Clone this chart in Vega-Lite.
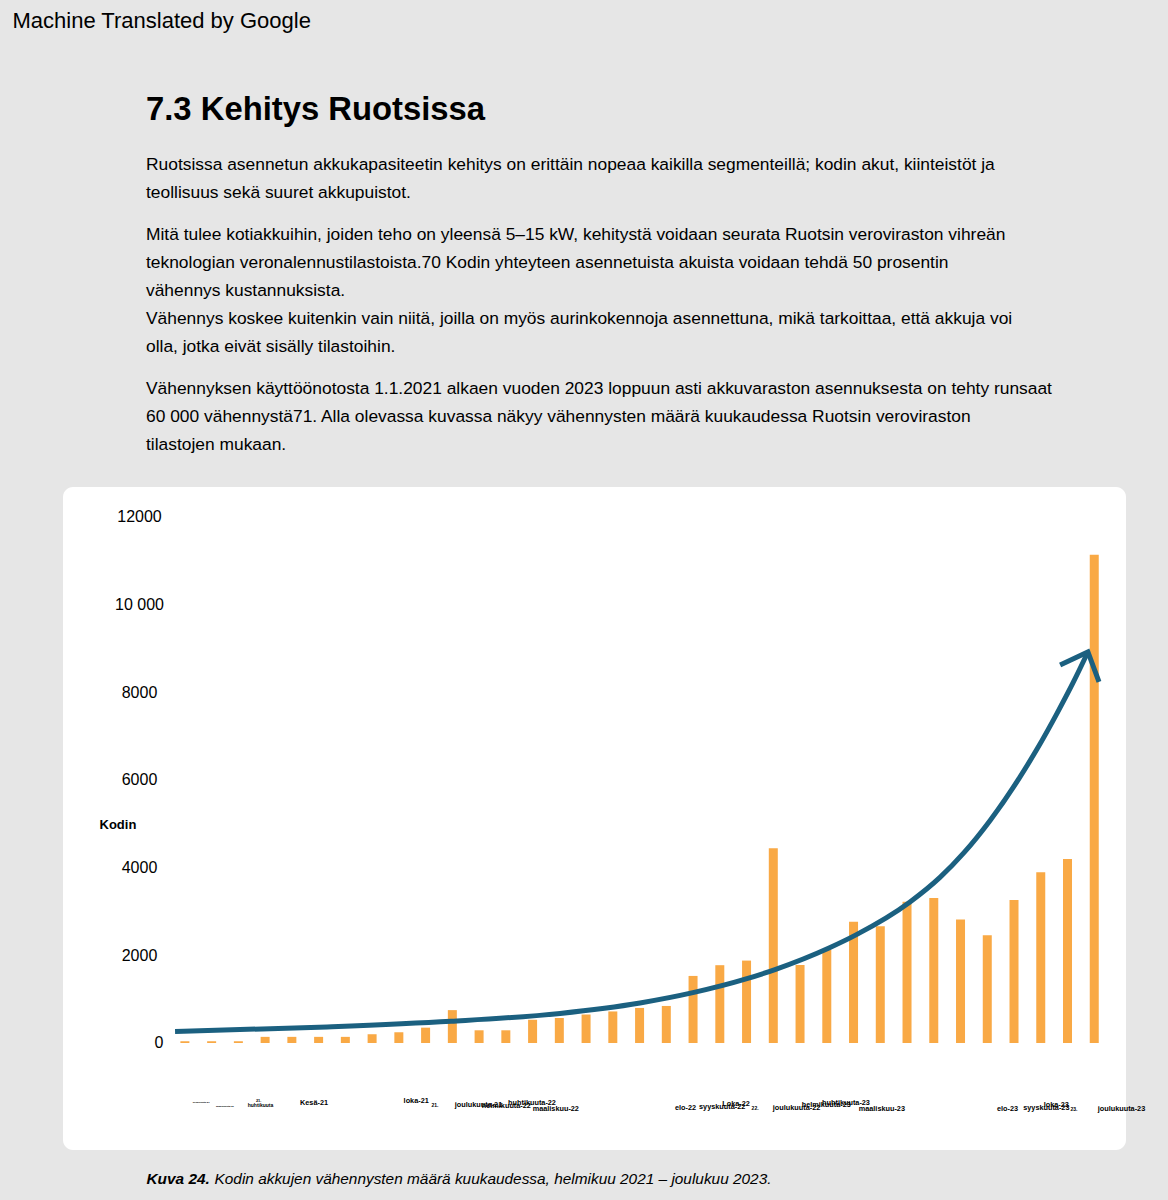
{
  "$schema": "https://vega.github.io/schema/vega-lite/v6.json",
  "width": 1063,
  "height": 663,
  "autosize": {"type": "none"},
  "padding": {"left": 63, "top": 487, "right": 42, "bottom": 50},
  "background": "#e6e6e6",
  "config": {
    "view": {"fill": "white", "stroke": null, "cornerRadius": 10},
    "font": "Liberation Sans",
    "axis": {"grid": false, "domain": false, "ticks": false, "tickSize": 0}
  },
  "title": {
    "text": "7.3 Kehitys Ruotsissa",
    "subtitle": [
      "Ruotsissa asennetun akkukapasiteetin kehitys on erittäin nopeaa kaikilla segmenteillä; kodin akut, kiinteistöt ja",
      "\u200b",
      "teollisuus sekä suuret akkupuistot.",
      "\u200b",
      "\u200b",
      "Mitä tulee kotiakkuihin, joiden teho on yleensä 5–15 kW, kehitystä voidaan seurata Ruotsin veroviraston vihreän",
      "\u200b",
      "teknologian veronalennustilastoista.70 Kodin yhteyteen asennetuista akuista voidaan tehdä 50 prosentin",
      "\u200b",
      "vähennys kustannuksista.",
      "\u200b",
      "Vähennys koskee kuitenkin vain niitä, joilla on myös aurinkokennoja asennettuna, mikä tarkoittaa, että akkuja voi",
      "\u200b",
      "olla, jotka eivät sisälly tilastoihin.",
      "\u200b",
      "\u200b",
      "Vähennyksen käyttöönotosta 1.1.2021 alkaen vuoden 2023 loppuun asti akkuvaraston asennuksesta on tehty runsaat",
      "\u200b",
      "60 000 vähennystä71. Alla olevassa kuvassa näkyy vähennysten määrä kuukaudessa Ruotsin veroviraston",
      "\u200b",
      "tilastojen mukaan."
    ],
    "anchor": "start",
    "frame": "group",
    "dx": 83,
    "offset": -444,
    "baseline": "top",
    "font": "Liberation Sans",
    "fontSize": 32.8,
    "fontWeight": "bold",
    "color": "#000000",
    "subtitleFont": "Liberation Sans",
    "subtitleFontSize": 17.4,
    "subtitleColor": "#000000",
    "subtitleLineHeight": 14,
    "subtitlePadding": 29
  },
  "datasets": {
    "monthly": [
      {"month": "2021-02", "m": 0, "v": 40},
      {"month": "2021-03", "m": 1, "v": 40},
      {"month": "2021-04", "m": 2, "v": 40},
      {"month": "2021-05", "m": 3, "v": 140},
      {"month": "2021-06", "m": 4, "v": 140},
      {"month": "2021-07", "m": 5, "v": 140},
      {"month": "2021-08", "m": 6, "v": 140},
      {"month": "2021-09", "m": 7, "v": 200},
      {"month": "2021-10", "m": 8, "v": 245},
      {"month": "2021-11", "m": 9, "v": 350},
      {"month": "2021-12", "m": 10, "v": 750},
      {"month": "2022-01", "m": 11, "v": 290},
      {"month": "2022-02", "m": 12, "v": 290},
      {"month": "2022-03", "m": 13, "v": 530},
      {"month": "2022-04", "m": 14, "v": 570},
      {"month": "2022-05", "m": 15, "v": 650},
      {"month": "2022-06", "m": 16, "v": 720},
      {"month": "2022-07", "m": 17, "v": 800},
      {"month": "2022-08", "m": 18, "v": 845},
      {"month": "2022-09", "m": 19, "v": 1530},
      {"month": "2022-10", "m": 20, "v": 1775},
      {"month": "2022-11", "m": 21, "v": 1880},
      {"month": "2022-12", "m": 22, "v": 4445},
      {"month": "2023-01", "m": 23, "v": 1780},
      {"month": "2023-02", "m": 24, "v": 2130},
      {"month": "2023-03", "m": 25, "v": 2765},
      {"month": "2023-04", "m": 26, "v": 2665},
      {"month": "2023-05", "m": 27, "v": 3220},
      {"month": "2023-06", "m": 28, "v": 3310},
      {"month": "2023-07", "m": 29, "v": 2815},
      {"month": "2023-08", "m": 30, "v": 2460},
      {"month": "2023-09", "m": 31, "v": 3265},
      {"month": "2023-10", "m": 32, "v": 3895},
      {"month": "2023-11", "m": 33, "v": 4195},
      {"month": "2023-12", "m": 34, "v": 11140}
    ],
    "trend": [
      {"m": -0.22, "v": 262},
      {"m": 5.41, "v": 367},
      {"m": 10.0, "v": 495},
      {"m": 14.04, "v": 675},
      {"m": 17.0, "v": 913},
      {"m": 18.96, "v": 1148},
      {"m": 20.96, "v": 1467},
      {"m": 22.0, "v": 1675},
      {"m": 24.0, "v": 2167},
      {"m": 25.0, "v": 2466},
      {"m": 27.0, "v": 3217},
      {"m": 28.11, "v": 3778},
      {"m": 29.0, "v": 4342},
      {"m": 29.96, "v": 5072},
      {"m": 31.07, "v": 6066},
      {"m": 31.7, "v": 6700},
      {"m": 32.44, "v": 7515},
      {"m": 33.04, "v": 8220},
      {"m": 33.59, "v": 8920}
    ],
    "arrowhead": [
      {"m": 32.56, "v": 8623},
      {"m": 33.59, "v": 8920},
      {"m": 34.0, "v": 8238}
    ]
  },
  "layer": [
    {
      "data": {"name": "monthly"},
      "mark": {"type": "bar", "width": 9, "color": "#f9a945"},
      "encoding": {
        "x": {
          "field": "m",
          "type": "quantitative",
          "scale": {"domain": [-4.37, 35], "nice": false, "zero": false},
          "axis": {
            "orient": "bottom",
            "values": [0.59, 1.48, 2.74, 2.81, 4.81, 8.63, 9.33, 10.96, 12.0, 12.96, 13.85, 18.7, 20.07, 20.59, 21.3, 22.85, 23.96, 24.7, 26.04, 30.74, 32.19, 32.56, 33.22, 35],
            "labelExpr": "['helmikuuta-21','maaliskuuta-21','21.','huhtikuuta','Kesä-21','loka-21','21.','joulukuuta-21','helmikuuta-22','huhtikuuta-22','maaliskuu-22','elo-22','syyskuuta-22','Loka-22','22.','joulukuuta-22','helmikuuta-23','huhtikuuta-23','maaliskuu-23','elo-23','syyskuuta-23','loka-23','23.','joulukuuta-23'][indexof([0.59, 1.48, 2.74, 2.81, 4.81, 8.63, 9.33, 10.96, 12.0, 12.96, 13.85, 18.7, 20.07, 20.59, 21.3, 22.85, 23.96, 24.7, 26.04, 30.74, 32.19, 32.56, 33.22, 35], datum.value)]",
            "labelOverlap": false,
            "labelBound": false,
            "labelFlush": false,
            "labelFont": "Liberation Sans",
            "labelFontWeight": "bold",
            "labelColor": "#000000",
            "labelAlign": "center",
            "labelBaseline": "middle",
            "labelFontSize": {
              "condition": [
                {"test": "indexof([0.59, 1.48], datum.value) >= 0", "value": 2.5},
                {"test": "indexof([2.74], datum.value) >= 0", "value": 4},
                {"test": "indexof([2.81, 9.33, 21.3, 33.22], datum.value) >= 0", "value": 5}
              ],
              "value": 7.3
            },
            "labelPadding": {
              "condition": [
                {"test": "indexof([2.74, 8.63], datum.value) >= 0", "value": -50},
                {"test": "indexof([0.59, 4.81, 12.96, 24.7], datum.value) >= 0", "value": -48},
                {"test": "indexof([20.59], datum.value) >= 0", "value": -47},
                {"test": "indexof([2.81, 9.33, 10.96, 23.96, 32.56], datum.value) >= 0", "value": -46},
                {"test": "indexof([12.0], datum.value) >= 0", "value": -45},
                {"test": "indexof([1.48, 20.07], datum.value) >= 0", "value": -44},
                {"test": "indexof([18.7, 21.3, 22.85, 32.19], datum.value) >= 0", "value": -43}
              ],
              "value": -42
            },
            "title": "Kuva 24.",
            "titleX": 83,
            "titleY": 28,
            "titleAlign": "left",
            "titleBaseline": "middle",
            "titleFont": "Liberation Sans",
            "titleFontSize": 15.4,
            "titleFontWeight": "bold",
            "titleFontStyle": "italic",
            "titleColor": "#000000"
          }
        },
        "y": {
          "field": "v",
          "type": "quantitative",
          "scale": {"domain": [-2441, 12684], "nice": false, "zero": false},
          "axis": {
            "orient": "left",
            "values": [0, 2000, 4000, 6000, 8000, 10000, 12000],
            "labelExpr": "datum.value == 10000 ? '10 000' : format(datum.value, 'd')",
            "labelFont": "Liberation Sans",
            "labelFontSize": 16,
            "labelColor": "#000000",
            "labelAlign": "center",
            "labelBaseline": "middle",
            "labelPadding": {"condition": {"test": "datum.value === 0", "value": -95.5}, "value": -76},
            "title": "Kodin",
            "titleAngle": 0,
            "titleX": 36,
            "titleY": 337,
            "titleAlign": "left",
            "titleBaseline": "middle",
            "titleFont": "Liberation Sans",
            "titleFontSize": 13,
            "titleFontWeight": "bold",
            "titleColor": "#000000"
          }
        }
      }
    },
    {
      "encoding": {
        "x": {
          "field": "m",
          "type": "quantitative",
          "scale": {"domain": [-4.37, 35], "nice": false, "zero": false},
          "axis": {
            "orient": "top",
            "labels": false,
            "title": "Machine Translated by Google",
            "titleX": -51,
            "titleY": -467,
            "titleAlign": "left",
            "titleBaseline": "middle",
            "titleFont": "Liberation Sans",
            "titleFontSize": 22,
            "titleFontWeight": "normal",
            "titleColor": "#000000"
          }
        },
        "y": {
          "field": "v",
          "type": "quantitative",
          "scale": {"domain": [-2441, 12684], "nice": false, "zero": false},
          "axis": {
            "orient": "right",
            "labels": false,
            "title": "Kodin akkujen vähennysten määrä kuukaudessa, helmikuu 2021 – joulukuu 2023.",
            "titleAngle": 0,
            "titleX": -912,
            "titleY": 691,
            "titleAlign": "left",
            "titleBaseline": "middle",
            "titleFont": "Liberation Sans",
            "titleFontSize": 15.4,
            "titleFontWeight": "normal",
            "titleFontStyle": "italic",
            "titleColor": "#000000"
          }
        }
      },
      "layer": [
        {
          "data": {"name": "trend"},
          "mark": {"type": "line", "interpolate": "monotone", "color": "#1b6080", "strokeWidth": 5, "strokeCap": "butt"}
        },
        {
          "data": {"name": "arrowhead"},
          "mark": {"type": "line", "interpolate": "linear", "color": "#1b6080", "strokeWidth": 5, "strokeCap": "butt", "strokeJoin": "miter"}
        }
      ]
    }
  ],
  "resolve": {
    "scale": {"x": "independent", "y": "independent"},
    "axis": {"x": "independent", "y": "independent"}
  }
}
